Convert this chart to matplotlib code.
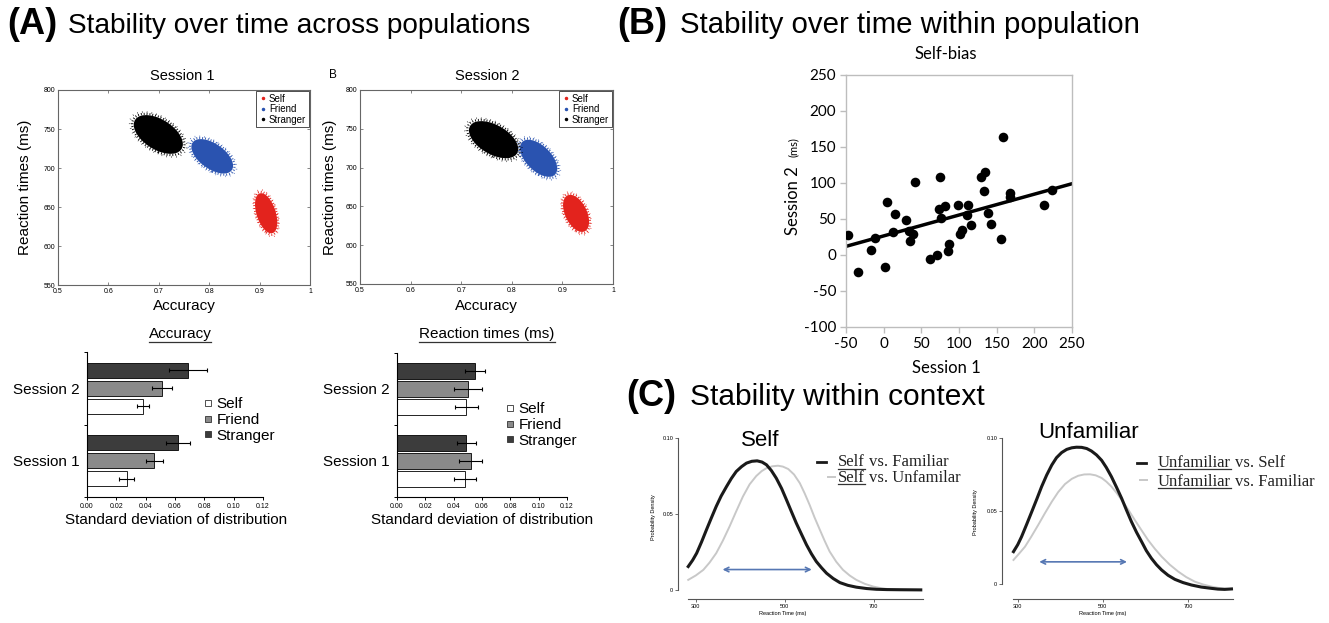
import numpy as np
import matplotlib
matplotlib.use('Agg')
import matplotlib.pyplot as plt
from matplotlib.transforms import Affine2D
from matplotlib.patches import Circle, FancyArrowPatch
from matplotlib.lines import Line2D

# ---------------- data ----------------
groups = ['Self', 'Friend', 'Stranger']
cloud_colors = ['#e3231d', '#2a53b0', '#000000']
# bootstrap clouds: centre accuracy / RT, half extent in accuracy / RT, correlation
s1_acc = [0.913, 0.806, 0.699]
s1_rt = [642, 715, 743]
s1_acc_half = [0.024, 0.045, 0.053]
s1_rt_half = [28, 24, 27]
s2_acc = [0.927, 0.853, 0.764]
s2_rt = [641, 712, 736]
s2_acc_half = [0.028, 0.040, 0.053]
s2_rt_half = [26, 26, 26]
cloud_corr = [-0.45, -0.55, -0.5]

sessions = ['Session 1', 'Session 2']
acc_self = [0.027, 0.038]
acc_self_err = [0.005, 0.004]
acc_friend = [0.046, 0.051]
acc_friend_err = [0.006, 0.007]
acc_stranger = [0.062, 0.069]
acc_stranger_err = [0.008, 0.013]
rt_self = [0.048, 0.049]
rt_self_err = [0.008, 0.008]
rt_friend = [0.052, 0.050]
rt_friend_err = [0.008, 0.010]
rt_stranger = [0.049, 0.055]
rt_stranger_err = [0.007, 0.007]
bar_colors = ['white', '#8a8a8a', '#3c3c3c']

bias_s1 = [-47, -34.5, -17, -12, 2, 4.5, 12, 14.7, 29, 33.7, 35.5, 39.5, 41, 61, 70.5,
           75, 73.6, 75.8, 81.6, 85, 87, 99.3, 101.5, 104, 111.3, 110.8, 115.7, 129,
           134.8, 133.4, 138, 143, 156, 158, 167.5, 167.5, 213, 224]
bias_s2 = [28, -24, 6.4, 23.5, -17, 73, 32, 57, 49, 34, 20, 29.5, 102, -5.7, 0.3,
           108.5, 63.7, 52, 68.3, 5, 14.7, 70, 29.5, 35, 69.7, 55, 41.5, 109,
           115.5, 88.6, 59, 43.3, 22.5, 164.5, 86, 81, 70, 90.5]
fit_x = [-50, 250]
fit_y = [12, 99]

self_fam_x = [283, 293, 302, 313, 324, 335, 346, 357, 369, 380, 391, 403, 414, 426, 438,
              449, 459, 470, 481, 493, 504, 515, 526, 538, 549, 560, 571, 583, 594, 609,
              624, 642, 661, 684, 706, 730, 760, 806]
self_fam_y = [.0154, .0196, .0242, .0316, .0396, .0474, .0550, .0618, .0680, .0734, .0780,
              .0812, .0835, .0847, .0850, .0842, .0824, .0786, .0736, .0668, .0593, .0516,
              .0440, .0365, .0297, .0238, .0187, .0145, .0110, .0075, .0048, .0030, .0018,
              .0009, .0004, .0002, .0001, .0000]
self_unf_x = [283, 300, 317, 331, 346, 361, 376, 391, 406, 421, 436, 448, 459, 472, 485,
              496, 508, 521, 534, 545, 556, 567, 579, 590, 601, 616, 631, 646, 661, 680,
              699, 717, 736, 770, 806]
self_unf_y = [.0066, .0095, .0132, .0180, .0242, .0325, .0418, .0518, .0615, .0695, .0750,
              .0782, .0802, .0814, .0818, .0812, .0796, .0760, .0703, .0635, .0560, .0478,
              .0396, .0322, .0253, .0185, .0132, .0095, .0066, .0040, .0022, .0011, .0004,
              .0001, .0000]
unf_self_x = [290, 300, 309, 321, 333, 345, 356, 368, 380, 391, 403, 415, 427, 438, 450,
              462, 473, 485, 497, 508, 520, 532, 544, 555, 567, 579, 591, 602, 614, 626,
              638, 653, 669, 688, 708, 731, 755, 770, 786, 802]
unf_self_y = [.0222, .0270, .0325, .0410, .0497, .0585, .0668, .0748, .0817, .0867, .0902,
              .0924, .0935, .0939, .0938, .0930, .0913, .0886, .0849, .0800, .0737, .0664,
              .0588, .0510, .0428, .0355, .0290, .0229, .0176, .0132, .0096, .0060, .0032,
              .0010, -.0007, -.0021, -.0030, -.0035, -.0037, -.0034]
unf_fam_x = [290, 303, 317, 332, 348, 364, 380, 395, 411, 427, 442, 456, 470, 483, 497,
             508, 520, 532, 544, 560, 575, 591, 606, 622, 638, 657, 677, 696, 716, 735,
             755, 774, 794]
unf_fam_y = [.0165, .0208, .0256, .0326, .0405, .0487, .0565, .0631, .0686, .0722, .0743,
             .0752, .0753, .0746, .0728, .0703, .0669, .0626, .0577, .0508, .0439, .0368,
             .0302, .0242, .0188, .0133, .0085, .0047, .0016, -.0003, -.0018, -.0028, -.0034]
self_arrow_x = [354, 567]
self_arrow_y = 0.0134
unf_arrow_x = [344, 563]
unf_arrow_y = 0.0152

# ---------------- figure ----------------
plt.rcParams['font.family'] = ['Liberation Sans', 'DejaVu Sans']
plt.rcParams['axes.unicode_minus'] = False
W, H = 1329, 623
fig = plt.figure(figsize=(W / 100, H / 100), dpi=100)
PX = Affine2D().scale(1.0 / W, -1.0 / H).translate(0, 1) + fig.transFigure


def add_ax(l, t, r, b):
    return fig.add_axes([l / W, 1 - b / H, (r - l) / W, (b - t) / H])


def ptext(x, y, s, **kw):
    return fig.text(x, y, s, transform=PX, **kw)


underlines = []

# headers
ptext(7, 34, '(A)', fontsize=26, fontweight='bold', va='baseline')
ptext(68, 33, 'Stability over time across populations', fontsize=20.2, va='baseline')
ptext(617, 34, '(B)', fontsize=26, fontweight='bold', va='baseline')
ptext(680, 33, 'Stability over time within population', fontsize=21.2, va='baseline')
ptext(626, 406, '(C)', fontsize=26, fontweight='bold', va='baseline')
ptext(690, 405, 'Stability within context', fontsize=21.5, va='baseline')

# ---------------- A: scatter clouds ----------------
def draw_cloud(ax, cx, cy, hx, hy, r, color):
    m = np.array([[hx, 0.0, cx], [r * hy, hy * np.sqrt(1 - r * r), cy], [0, 0, 1]])
    tr = Affine2D(m) + ax.transData
    ax.add_patch(Circle((0, 0), 0.92, transform=tr, facecolor=color, edgecolor='none', zorder=2))
    ax.add_patch(Circle((0, 0), 0.98, transform=tr, fill=False, edgecolor=color, lw=1.6,
                        linestyle=(0, (0.4, 0.9)), zorder=2))
    ax.add_patch(Circle((0, 0), 1.07, transform=tr, fill=False, edgecolor=color, lw=1.2,
                        linestyle=(0.7, (0.3, 2.6)), zorder=2))


scatter_specs = [
    ((58, 90, 310, 285), s1_acc, s1_rt, s1_acc_half, s1_rt_half, 'Session 1', 182, 25),
    ((360, 90, 613, 284), s2_acc, s2_rt, s2_acc_half, s2_rt_half, 'Session 2', 487, 330),
]
for box, accs, rts, hxs, hys, title, tx, ylx in scatter_specs:
    ax = add_ax(*box)
    ax.set_xlim(0.5, 1)
    ax.set_ylim(550, 800)
    for i in range(3):
        draw_cloud(ax, accs[i], rts[i], hxs[i], hys[i], cloud_corr[i], cloud_colors[i])
    ax.set_xticks([0.5, 0.6, 0.7, 0.8, 0.9, 1.0], ['0.5', '0.6', '0.7', '0.8', '0.9', '1'])
    ax.set_yticks([550, 600, 650, 700, 750, 800])
    ax.tick_params(direction='in', top=True, right=True, labelsize=5, length=2, width=0.5,
                   color='#555555', pad=2)
    for sp in ax.spines.values():
        sp.set_color('#666666')
        sp.set_linewidth(0.8)
    handles = [Line2D([], [], marker='.', ls='none', color=c, markersize=3) for c in cloud_colors]
    leg = ax.legend(handles, groups, loc='upper right', fontsize=7, frameon=True, fancybox=False,
                    borderpad=0.25, labelspacing=0.05, handletextpad=0.1, handlelength=1.0,
                    borderaxespad=0.15, framealpha=1)
    leg.get_frame().set_edgecolor('#333333')
    leg.get_frame().set_linewidth(0.6)
    ptext(tx, 76, title, fontsize=10.5, ha='center', va='center')
    ptext((box[0] + box[2]) / 2, 306, 'Accuracy', fontsize=11, ha='center', va='center')
    ptext(ylx, (box[1] + box[3]) / 2, 'Reaction times (ms)', fontsize=11, ha='center',
          va='center', rotation=90)
ptext(333, 75, 'B', fontsize=8.5, ha='center', va='center')

# ---------------- A: bar charts ----------------
bar_specs = [
    ((87, 352, 263, 497), [acc_self, acc_friend, acc_stranger],
     [acc_self_err, acc_friend_err, acc_stranger_err], 'Accuracy', 176, (203, 420)),
    ((397, 353, 567, 497), [rt_self, rt_friend, rt_stranger],
     [rt_self_err, rt_friend_err, rt_stranger_err], 'Reaction times (ms)', 482, (505, 425)),
]
offsets = [-0.25, 0.0, 0.25]
for box, vals, errs, title, xlx, legpos in bar_specs:
    ax = add_ax(*box)
    centers = np.arange(len(sessions)) + 0.5
    for k in range(3):
        ax.barh(centers + offsets[k], vals[k], height=0.21, xerr=errs[k], color=bar_colors[k],
                edgecolor='black', linewidth=0.6,
                error_kw=dict(ecolor='black', elinewidth=0.8, capsize=1.5, capthick=0.8))
    ax.set_xlim(0, 0.12)
    ax.set_ylim(0, 2)
    ax.set_xticks(np.arange(0, 0.121, 0.02), ['%.2f' % v for v in np.arange(0, 0.121, 0.02)])
    ax.set_yticks([0, 1, 2], ['', '', ''])
    ax.set_yticks(centers, sessions, minor=True)
    ax.tick_params(which='major', labelsize=5, length=2.5, width=0.7, pad=2)
    ax.tick_params(which='minor', axis='y', length=0, labelsize=11, pad=5)
    for s in ['top', 'right']:
        ax.spines[s].set_visible(False)
    for s in ['left', 'bottom']:
        ax.spines[s].set_linewidth(0.8)
    handles = [Line2D([], [], marker='s', ls='none', markerfacecolor=c, markeredgecolor='#333333',
                      markeredgewidth=0.6, markersize=4.5) for c in bar_colors]
    ax.legend(handles, groups, loc='center left', bbox_to_anchor=legpos, bbox_transform=PX,
              fontsize=11, frameon=False, handlelength=0.6, handletextpad=0.3,
              labelspacing=0.1, borderpad=0, borderaxespad=0)
    t = ptext((box[0] + box[2]) / 2 + 5, 334, title, fontsize=11, ha='center', va='center')
    underlines.append((t, 3))
    ptext(xlx, 520, 'Standard deviation of distribution', fontsize=11, ha='center', va='center')

# ---------------- B: self-bias scatter ----------------
bfont = ['Lato', 'DejaVu Sans']
ax = add_ax(846, 75, 1072, 327)
ax.scatter(bias_s1, bias_s2, s=48, color='black', zorder=3, linewidths=0)
ax.plot(fit_x, fit_y, color='black', lw=2.5, zorder=2)
ax.set_xlim(-50, 250)
ax.set_ylim(-100, 250)
ax.set_xticks(range(-50, 251, 50))
ax.set_yticks(range(-100, 251, 50))
for sp in ax.spines.values():
    sp.set_color('#bdbdbd')
    sp.set_linewidth(1.0)
ax.tick_params(direction='out', length=4, width=1, color='#bdbdbd', labelsize=11, pad=3)
for lab in ax.get_xticklabels() + ax.get_yticklabels():
    lab.set_family(bfont)
ptext(946, 54, 'Self-bias', fontsize=12, ha='center', va='center', family=bfont)
ptext(946, 368, 'Session 1', fontsize=12, ha='center', va='center', family=bfont)
ptext(793, 201, 'Session 2', fontsize=12, ha='center', va='center', rotation=90, family=bfont)
ptext(793, 147, '(ms)', fontsize=8, ha='center', va='center', rotation=90, family=bfont)

# ---------------- C: density curves ----------------
c_specs = [
    ((678, 432, 927, 599), (260, 820), (-0.006, 0.104), (282, 811),
     [(self_fam_x, self_fam_y), (self_unf_x, self_unf_y)], self_arrow_x, self_arrow_y,
     'Self', (760, 440), 783, 653, 517),
    ((1002, 432.5, 1237, 599), (263, 815), (-0.0103, 0.104), (289, 805),
     [(unf_self_x, unf_self_y), (unf_fam_x, unf_fam_y)], unf_arrow_x, unf_arrow_y,
     'Unfamiliar', (1089, 433), 1103, 975, 512),
]
for box, xl, yl, xb, curves, arx, ary, title, tpos, xlx, ylx, yly in c_specs:
    ax = add_ax(*box)
    ax.plot(*curves[1], color='#c8c8c8', lw=1.4, solid_joinstyle='round')
    ax.plot(*curves[0], color='#1a1a1a', lw=2.2, solid_joinstyle='round')
    ax.add_patch(FancyArrowPatch((arx[0], ary), (arx[1], ary), arrowstyle='<->',
                                 mutation_scale=8, color='#5677b3', lw=1.2))
    ax.set_xlim(*xl)
    ax.set_ylim(*yl)
    ax.spines['top'].set_visible(False)
    ax.spines['right'].set_visible(False)
    ax.spines['left'].set_bounds(0, 0.10)
    ax.spines['bottom'].set_bounds(*xb)
    for s in ['left', 'bottom']:
        ax.spines[s].set_color('#555555')
        ax.spines[s].set_linewidth(0.8)
    ax.set_xticks([300, 500, 700])
    ax.set_yticks([0, 0.05, 0.10], ['0', '0.05', '0.10'])
    ax.tick_params(labelsize=4, length=2, width=0.6, pad=1.5, color='#555555')
    ptext(tpos[0], tpos[1], title, fontsize=16, ha='center', va='center')
    ptext(xlx, 614, 'Reaction Time (ms)', fontsize=4, ha='center', va='center')
    ptext(ylx, yly, 'Probability Density', fontsize=4, ha='center', va='center', rotation=90)

# C legends (serif, underlined first word)
serif = ['Liberation Serif', 'DejaVu Serif']
c_legends = [
    [(817, 826, 461.5, '#1a1a1a', 2.0, 'Self', 'vs. Familiar', 838, 466.5),
     (828, 835, 476.5, '#c8c8c8', 1.4, 'Self', 'vs. Unfamilar', 838, 481.5)],
    [(1137, 1146, 462.5, '#1a1a1a', 2.0, 'Unfamiliar', 'vs. Self', 1158, 467),
     (1140, 1147, 479.5, '#c8c8c8', 1.4, 'Unfamiliar', 'vs. Familiar', 1158, 486)],
]
pending = []
for entries in c_legends:
    for x0, x1, ly, col, lw, word, rest, tx, ty in entries:
        fig.add_artist(Line2D([x0, x1], [ly, ly], transform=PX, color=col, lw=lw))
        t = ptext(tx, ty, word, fontsize=12, family=serif, va='baseline', color='#222222')
        pending.append((t, rest, ty))
        underlines.append((t, 2))

# resolve underlines and trailing text
fig.canvas.draw()
r = fig.canvas.get_renderer()
for t, rest, ty in pending:
    bb = t.get_window_extent(r)
    ptext(bb.x1 + 4, ty, rest, fontsize=12, family=serif, va='baseline', color='#222222')
for t, gap in underlines:
    bb = t.get_window_extent(r)
    if t.get_va() == 'baseline':
        yb = t.get_position()[1] + gap
    else:
        yb = H - bb.y0 + 1
    fig.add_artist(Line2D([bb.x0, bb.x1], [yb, yb], transform=PX, color='#333333', lw=0.9))

fig.savefig('out.png', dpi=100)
